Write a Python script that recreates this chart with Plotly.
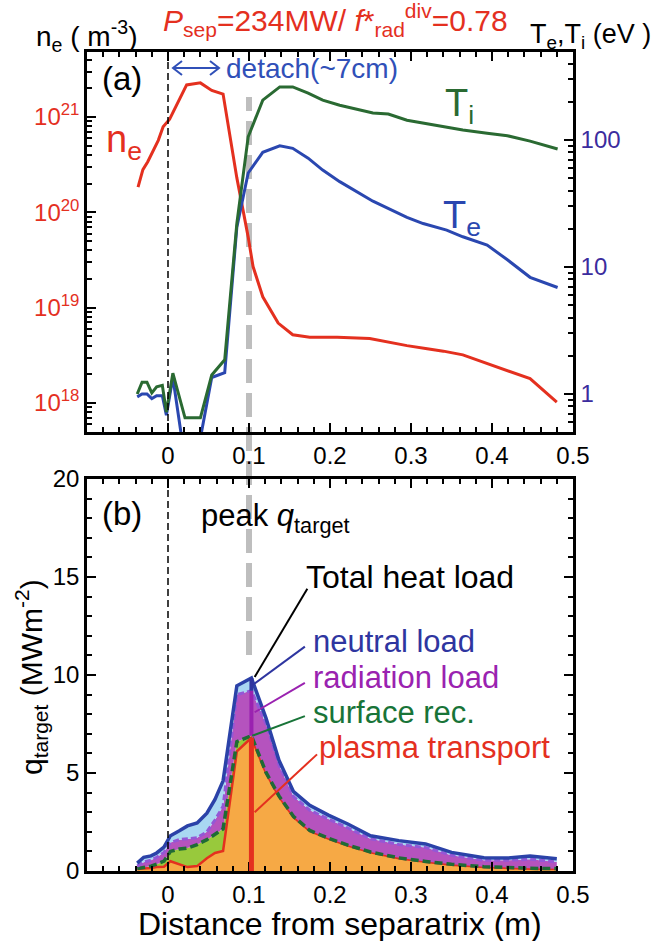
import plotly.graph_objects as go

# ---------------- panel (a): density and temperature profiles ----------------
x_ne = [-0.037, -0.031, -0.025, -0.019, -0.012, -0.006, -0.001, 0.002, 0.023, 0.040,
        0.054, 0.068, 0.085, 0.099, 0.105, 0.117, 0.136, 0.154, 0.175, 0.209,
        0.249, 0.274, 0.295, 0.320, 0.340, 0.364, 0.394, 0.419, 0.447, 0.480]
ne = [1.84e20, 2.8e20, 3.4e20, 4.3e20, 5.7e20, 7.9e20, 8.9e20, 9.5e20, 2.17e21, 2.28e21,
      1.9e21, 1.74e21, 2.3e20, 5.5e19, 2.7e19, 1.3e19, 6.9e18, 5.2e18, 4.9e18, 4.9e18,
      4.75e18, 4.3e18, 4.0e18, 3.7e18, 3.5e18, 3.2e18, 2.6e18, 2.2e18, 1.8e18, 1.02e18]

x_T = [-0.038, -0.032, -0.026, -0.020, -0.014, -0.007, -0.002, 0.006, 0.021, 0.040,
       0.054, 0.070, 0.085, 0.099, 0.117, 0.138, 0.154, 0.173, 0.191, 0.212,
       0.253, 0.272, 0.295, 0.315, 0.344, 0.364, 0.394, 0.419, 0.447, 0.481]
Ti = [1.0, 1.24, 1.24, 1.02, 1.14, 1.17, 0.72, 1.46, 0.65, 0.65,
      1.41, 1.86, 22, 106, 206, 262, 262, 234, 206, 188,
      163, 160, 143, 136, 127, 120, 113, 108, 98, 85]
Te = [0.95, 1.0, 1.0, 0.92, 0.97, 0.97, 0.68, 1.35, 0.3, 0.45,
      1.35, 1.47, 20.6, 55, 80, 90, 86, 72, 58, 47,
      33, 29, 24.6, 22, 19.5, 17.3, 14.9, 11.4, 8.3, 6.9]

# ---------------- panel (b): target heat-load components (MW m^-2) ----------------
x_q = [-0.038, -0.030, -0.021, -0.014, -0.005, 0.003, 0.014, 0.024, 0.036, 0.048,
       0.058, 0.068, 0.085, 0.103, 0.121, 0.137, 0.155, 0.175, 0.198, 0.222,
       0.250, 0.285, 0.318, 0.350, 0.390, 0.420, 0.447, 0.480]
q_plasma = [0.10, 0.12, 0.15, 0.20, 0.22, 0.50, 0.35, 0.20, 0.25, 0.65,
            0.92, 1.02, 6.10, 6.80, 5.00, 3.80, 2.75, 2.05, 1.65, 1.30,
            0.95, 0.65, 0.47, 0.32, 0.20, 0.15, 0.12, 0.10]
q_surface = [0.02, 0.06, 0.10, 0.15, 0.28, 0.50, 0.77, 0.97, 1.10, 0.95,
             0.98, 1.13, 0.50, 0.10, 0.03, 0.03, 0.03, 0.02, 0.02, 0.02,
             0.02, 0.02, 0.02, 0.02, 0.02, 0.02, 0.02, 0.02]
q_radiation = [0.13, 0.27, 0.30, 0.35, 0.45, 0.45, 0.48, 0.48, 0.35, 0.40,
               0.70, 1.15, 2.40, 2.30, 2.47, 1.57, 1.02, 1.03, 0.98, 0.88,
               0.68, 0.68, 0.71, 0.46, 0.33, 0.38, 0.46, 0.34]
q_neutral = [0.15, 0.25, 0.22, 0.22, 0.27, 0.35, 0.45, 0.65, 0.75, 0.95,
             1.05, 1.30, 0.45, 0.65, 0.30, 0.25, 0.25, 0.25, 0.20, 0.20,
             0.15, 0.20, 0.18, 0.15, 0.13, 0.11, 0.16, 0.16]

# ---------------- tick labels ----------------
x_tickvals = [0, 0.1, 0.2, 0.3, 0.4, 0.5]
x_ticktext = ["0", "0.1", "0.2", "0.3", "0.4", "0.5"]
ne_tickvals = [1e18, 1e19, 1e20, 1e21]
ne_ticktext = ["10<sup>18</sup>", "10<sup>19</sup>", "10<sup>20</sup>", "10<sup>21</sup>"]
T_tickvals = [1, 10, 100]
T_ticktext = ["1", "10", "100"]
q_tickvals = [0, 5, 10, 15, 20]
q_ticktext = ["0", "5", "10", "15", "20"]

# ---------------- colours ----------------
RED = "#E4301F"
GREEN = "#2A6A32"
BLUE = "#2A47B0"
T_TICK = "#3B2C9E"
FONT = "Liberation Sans, Arial, Helvetica, sans-serif"

# ---------------- page geometry (pixels -> paper) ----------------
W, H = 654, 941
ML, MR, MT, MB = 87, 81, 52, 70
PW, PH = W - ML - MR, H - MT - MB


def pxx(xp):
    return (xp - ML) / PW


def pxy(yp):
    return (H - MB - yp) / PH


dom_a = [pxy(432), 1.0]
dom_b = [0.0, pxy(479)]


def log_minor(lo, hi):
    vals = []
    for e in range(lo, hi):
        for m in range(2, 10):
            vals.append(float(m) * 10.0 ** e)
    return vals


fig = go.Figure()

# panel (a)
fig.add_trace(go.Scatter(x=x_ne, y=ne, xaxis="x", yaxis="y", mode="lines",
                         line=dict(color=RED, width=3), showlegend=False))
fig.add_trace(go.Scatter(x=x_T, y=Te, xaxis="x", yaxis="y2", mode="lines",
                         line=dict(color=BLUE, width=3), showlegend=False))
fig.add_trace(go.Scatter(x=x_T, y=Ti, xaxis="x", yaxis="y2", mode="lines",
                         line=dict(color=GREEN, width=3), showlegend=False))

# panel (b): stacked heat-load components
stack = [
    (q_plasma, "#F6A945", dict(color=RED, width=2.5)),
    (q_surface, "#98C93C", dict(color="#1F6B35", width=3.5, dash="8px,4px")),
    (q_radiation, "#B553BE", dict(color="#9457D6", width=3, dash="6px,3px")),
    (q_neutral, "#A9D7F2", dict(color="#2B42A8", width=3.5)),
]
for vals, fc, ln in stack:
    fig.add_trace(go.Scatter(x=x_q, y=vals, xaxis="x2", yaxis="y3", mode="lines",
                             stackgroup="q", fillcolor=fc, line=ln, showlegend=False))

# cumulative levels at the peak of the total load
cum_s = [a + b for a, b in zip(q_plasma, q_surface)]
cum_r = [a + b for a, b in zip(cum_s, q_radiation)]
cum_t = [a + b for a, b in zip(cum_r, q_neutral)]
ip = max(range(len(cum_t)), key=lambda i: cum_t[i])
xp = x_q[ip]

shapes = []
# separatrix markers
shapes.append(dict(type="line", xref="x", yref="y domain", x0=0, x1=0, y0=0, y1=1,
                   line=dict(color="black", width=1.5, dash="7px,4px")))
shapes.append(dict(type="line", xref="x2", yref="y3 domain", x0=0, x1=0, y0=0, y1=1,
                   line=dict(color="black", width=1.5, dash="7px,4px")))
# peak-location marker crossing both panels
shapes.append(dict(type="line", xref="x", yref="paper", x0=0.1, x1=0.1,
                   y0=pxy(655), y1=pxy(97), layer="below",
                   line=dict(color="#BEBEBE", width=6, dash="24px,10px")))
# vertical peak bars
shapes.append(dict(type="line", xref="x2", yref="y3", x0=xp, x1=xp, y0=0, y1=q_plasma[ip],
                   line=dict(color=RED, width=5)))
shapes.append(dict(type="line", xref="x2", yref="y3", x0=xp, x1=xp, y0=cum_s[ip], y1=cum_r[ip],
                   line=dict(color="#9A22B0", width=4)))
shapes.append(dict(type="line", xref="x2", yref="y3", x0=xp, x1=xp, y0=cum_r[ip], y1=cum_t[ip],
                   line=dict(color="#2E35A0", width=4)))
# leader lines to the labels
leaders = [
    ((0.107, 9.9), (0.172, 14.4), "black"),
    ((0.105, 9.5), (0.169, 11.45), "#2E35A0"),
    ((0.107, 8.1), (0.169, 9.6), "#9A22B0"),
    ((0.104, 6.9), (0.169, 7.9), "#187438"),
    ((0.107, 3.0), (0.184, 5.95), RED),
]
for (x0, y0), (x1, y1), c in leaders:
    shapes.append(dict(type="line", xref="x2", yref="y3", x0=x0, y0=y0, x1=x1, y1=y1,
                       line=dict(color=c, width=2)))
# double-headed arrow for the detached region
shapes.append(dict(type="path", xref="x", yref="paper", xsizemode="pixel", ysizemode="pixel",
                   xanchor=0.0, yanchor=pxy(68),
                   path="M5,0 L51,0 M14,7 L5,0 L14,-7 M42,7 L51,0 L42,-7",
                   line=dict(color="#3050B8", width=2)))


def ann(text, x, y, size, color="black", xanchor="left", angle=0):
    return dict(text=text, xref="paper", yref="paper", x=pxx(x), y=pxy(y),
                xanchor=xanchor, yanchor="middle", showarrow=False, textangle=angle,
                font=dict(family=FONT, size=size, color=color))


annotations = [
    ann("<i>P</i><sub>sep</sub>=234MW/ <i>f</i>*<sub>rad</sub><sup>div</sup>=0.78", 335, 20, 30, RED, "center"),
    ann("n<sub>e</sub> ( m<sup>-3</sup>)", 34, 36, 28),
    ann("T<sub>e</sub>,T<sub>i</sub> (eV )", 653, 36, 27, "black", "right"),
    ann("(a)", 100, 78, 33),
    ann("detach(~7cm)", 224, 68, 28, "#3050B8"),
    ann("n<sub>e</sub>", 104, 142, 38, RED),
    ann("T<sub>i</sub>", 443, 106, 38, GREEN),
    ann("T<sub>e</sub>", 441, 218, 38, BLUE),
    ann("(b)", 100, 513, 33),
    ann("peak <i>q</i><sub>target</sub>", 199, 518, 31),
    ann("Total heat load", 304, 577, 32),
    ann("neutral load", 311, 641, 31, "#2E35A0"),
    ann("radiation load", 311, 677, 31, "#9A22B0"),
    ann("surface rec.", 311, 712, 31, "#187438"),
    ann("plasma transport", 317, 747, 31, RED),
    ann("Distance from separatrix (m)", 340, 924, 32, "black", "center"),
    ann("q<sub>target</sub> (MWm<sup>-2</sup>)", 31, 677, 30, "black", "center", -90),
]

axis_common = dict(showline=True, linecolor="black", linewidth=2.5, ticks="inside",
                   ticklen=9, tickwidth=2, tickcolor="black", showgrid=False, zeroline=False)
xminor = dict(dtick=0.02, tick0=0, ticks="inside", ticklen=5, tickwidth=1.5, tickcolor="black")

fig.update_layout(
    width=W, height=H,
    margin=dict(l=ML, r=MR, t=MT, b=MB),
    paper_bgcolor="white", plot_bgcolor="white",
    font=dict(family=FONT, color="black"),
    showlegend=False,
    xaxis=dict(domain=[0, 1], range=[-0.1, 0.5], anchor="y", mirror="ticks",
               tickmode="array", tickvals=x_tickvals, ticktext=x_ticktext,
               tickfont=dict(size=24, color="black"), minor=xminor, **axis_common),
    yaxis=dict(domain=dom_a, type="log", range=[17.696, 21.682], anchor="x", side="left",
               tickmode="array", tickvals=ne_tickvals, ticktext=ne_ticktext,
               tickfont=dict(size=24, color=RED),
               minor=dict(tickmode="array", tickvals=log_minor(17, 22), ticks="inside",
                          ticklen=5, tickwidth=1.5, tickcolor="black"),
               **axis_common),
    yaxis2=dict(overlaying="y", type="log", range=[-0.299, 2.693], anchor="x", side="right",
                tickmode="array", tickvals=T_tickvals, ticktext=T_ticktext,
                tickfont=dict(size=24, color=T_TICK),
                minor=dict(tickmode="array", tickvals=log_minor(-1, 3), ticks="inside",
                           ticklen=5, tickwidth=1.5, tickcolor="black"),
                **axis_common),
    xaxis2=dict(domain=[0, 1], range=[-0.1, 0.5], anchor="y3", mirror="ticks",
                tickmode="array", tickvals=x_tickvals, ticktext=x_ticktext,
                tickfont=dict(size=24, color="black"), minor=xminor, **axis_common),
    yaxis3=dict(domain=dom_b, range=[0, 20], anchor="x2", mirror="ticks",
                tickmode="array", tickvals=q_tickvals, ticktext=q_ticktext,
                tickfont=dict(size=24, color="black"),
                minor=dict(dtick=1, tick0=0, ticks="inside", ticklen=5, tickwidth=1.5,
                           tickcolor="black"),
                **axis_common),
    shapes=shapes,
    annotations=annotations,
)

fig.write_html("out.html")
